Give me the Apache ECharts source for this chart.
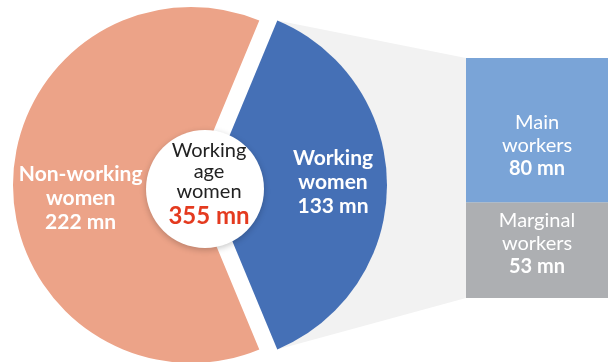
<!DOCTYPE html>
<html>
<head>
<meta charset="utf-8">
<script src="https://cdn.jsdelivr.net/npm/echarts@6/dist/echarts.min.js"></script>
<style>
  html, body { margin: 0; padding: 0; background: #ffffff; }
  #chart { width: 610px; height: 362px; }
</style>
</head>
<body>
<div id="chart"></div>
<script>
// Working-age women split into working / non-working, with workers split further
const sliceNames = ['Working women', 'Non-working women'];
const sliceLines = [['Working', 'women'], ['Non-working', 'women']];
const sliceValues = [133, 222];
const splitNames = ['Marginal workers', 'Main workers'];
const splitLines = [['Marginal', 'workers'], ['Main', 'workers']];
const splitValues = [53, 80];
const unit = 'mn';
const centerLines = ['Working', 'age', 'women'];

const BLUE = '#4570b6';
const SALMON = '#eca388';
const MAIN = '#7aa4d7';
const MARGINAL = '#adafb2';
const LINK = '#f2f2f2';
const FONT = 'Lato, "Noto Sans", sans-serif';

const total = sliceValues.reduce((a, b) => a + b, 0);
const workingTotal = splitValues.reduce((a, b) => a + b, 0);

// pie geometry
const PIE_CX = 191, PIE_CY = 185, PIE_R = 178, PIE_OFFSET = 18;
// working slice sits centred on the horizontal, pointing right
const startAngle = 180 * sliceValues[0] / total;

const chart = echarts.init(document.getElementById('chart'), null, { renderer: 'canvas' });

const sliceColors = [BLUE, SALMON];
// the pulled-out slice keeps its own label transform, so it is nudged;
// the other one is anchored directly
const pieLabelLayout = [
  { dx: 32, dy: -3 },
  { x: PIE_CX - 0.62 * PIE_R, y: PIE_CY + 13, align: 'center', verticalAlign: 'middle' }
];

const option = {
  animation: false,
  grid: { left: 466, right: 2, top: 58, bottom: 64 },
  xAxis: { type: 'category', data: ['Working women'], show: false },
  yAxis: { type: 'value', min: 0, max: workingTotal, show: false },
  series: [
    {
      type: 'pie',
      center: [PIE_CX, PIE_CY],
      radius: PIE_R,
      startAngle: startAngle,
      clockwise: true,
      selectedMode: 'single',
      selectedOffset: PIE_OFFSET,
      silent: true,
      emphasis: { disabled: true },
      labelLine: { show: false },
      label: {
        show: true,
        position: 'inside',
        color: '#ffffff',
        fontFamily: FONT,
        fontWeight: 'bold',
        fontSize: 21,
        lineHeight: 24,
        formatter: p => sliceLines[p.dataIndex].join('\n') + '\n' + p.value + ' ' + unit
      },
      labelLayout: p => pieLabelLayout[p.dataIndex],
      data: sliceValues.map((v, i) => ({
        value: v,
        name: sliceNames[i],
        selected: i === 0,
        itemStyle: { color: sliceColors[i], borderWidth: 0 },
        select: { itemStyle: { color: sliceColors[i] } }
      }))
    },
    ...splitValues.map((v, i) => ({
      type: 'bar',
      name: splitNames[i],
      stack: 'workers',
      barWidth: '100%',
      silent: true,
      itemStyle: { color: i === 0 ? MARGINAL : MAIN },
      label: {
        show: true,
        position: 'inside',
        offset: i === 0 ? [0, -7] : [0, 15],
        color: '#ffffff',
        fontFamily: FONT,
        fontSize: 20,
        lineHeight: 23,
        formatter: p => '{t|' + splitLines[i].join('\n') + '}\n{v|' + p.value + ' ' + unit + '}',
        rich: {
          t: { color: '#ffffff', fontFamily: FONT, fontSize: 20, lineHeight: 23 },
          v: { color: '#ffffff', fontFamily: FONT, fontSize: 20, fontWeight: 'bold', lineHeight: 23 }
        }
      },
      data: [v]
    }))
  ]
};

chart.setOption(option);

// connector band from the working slice to the stacked bar, and the centre badge
const half = Math.PI * sliceValues[0] / total;
const apexX = PIE_CX + PIE_OFFSET;
const cornerTop = [apexX + PIE_R * Math.cos(half), PIE_CY - PIE_R * Math.sin(half)];
const cornerBottom = [apexX + PIE_R * Math.cos(half), PIE_CY + PIE_R * Math.sin(half)];
const barTop = chart.convertToPixel({ yAxisIndex: 0 }, workingTotal);
const barBottom = chart.convertToPixel({ yAxisIndex: 0 }, 0);
const barLeft = option.grid.left;

const BADGE_X = 205, BADGE_Y = 189;

chart.setOption({
  graphic: [
    {
      type: 'polygon',
      z: -10,
      silent: true,
      shape: { points: [cornerTop, [barLeft, barTop], [barLeft, barBottom], cornerBottom] },
      style: { fill: LINK }
    },
    {
      type: 'circle',
      z: 100,
      silent: true,
      shape: { cx: BADGE_X, cy: BADGE_Y, r: 59 },
      style: { fill: '#ffffff', shadowBlur: 6, shadowColor: 'rgba(0,0,0,0.22)', shadowOffsetY: 2 }
    },
    ...centerLines.map((t, i) => ({
      type: 'text',
      z: 101,
      silent: true,
      x: BADGE_X + 4,
      y: BADGE_Y - 38 + i * 20.5,
      style: { text: t, fill: '#222222', font: 'normal 20px ' + FONT, align: 'center', verticalAlign: 'middle' }
    })),
    {
      type: 'text',
      z: 101,
      silent: true,
      x: BADGE_X + 4,
      y: BADGE_Y + 27,
      style: { text: total + ' ' + unit, fill: '#e43a1f', font: 'bold 24px ' + FONT, align: 'center', verticalAlign: 'middle' }
    }
  ]
});
</script>
</body>
</html>
